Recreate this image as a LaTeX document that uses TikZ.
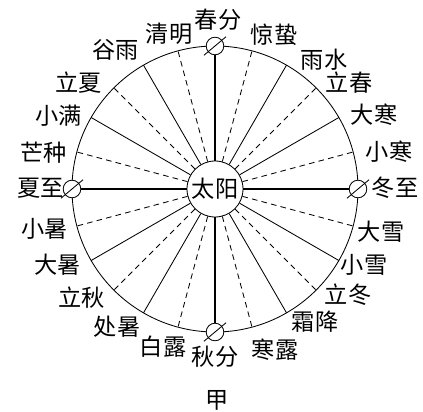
\documentclass[tikz,border=0pt]{standalone}
\usepackage{fontspec}
\newfontfamily\cjk{Noto Sans CJK SC}
\newcommand{\termfont}{\cjk\fontsize{16.5}{18}\selectfont}

\begin{document}
\begin{tikzpicture}[
        x=1cm,
        y=1cm,
        orbit/.style={line width=0.6pt},
        spoke/.style={line width=0.6pt},
        halfspoke/.style={line width=0.6pt, dash pattern=on 4pt off 3pt},
        axisH/.style={line width=1.3pt},
        axisV/.style={line width=0.9pt},
        sunnode/.style={circle, draw, line width=0.6pt, fill=white, minimum size=1.4cm, inner sep=0pt, font=\termfont},
        earth/.style={circle, draw, line width=0.6pt, fill=white, minimum size=0.44cm, inner sep=0pt},
        slash/.style={line width=0.6pt},
        term/.style={inner sep=0pt, font=\termfont}
    ]
        \useasboundingbox (-5.375,-5.55) rectangle (5.2,4.725);

        \draw[orbit] (0,0) circle (3.575);
        \node[sunnode] (sun) at (0,0) {太阳};

        \node[earth] (chunfen) at (90:3.575) {};
        \node[earth] (dongzhi) at (0:3.575) {};
        \node[earth] (qiufen) at (270:3.575) {};
        \node[earth] (xiazhi) at (180:3.575) {};

        \draw[axisV] (sun) -- (chunfen);
        \draw[axisV] (sun) -- (qiufen);
        \draw[axisH] (sun) -- (dongzhi);
        \draw[axisH] (sun) -- (xiazhi);

        \foreach \a in {30,60,120,150,210,240,300,330} {
            \coordinate (rim\a) at (\a:3.575);
            \draw[spoke] (sun) -- (rim\a);
        }

        \foreach \a in {15,45,...,345} {
            \coordinate (tick\a) at (\a:3.575);
            \draw[halfspoke] (sun) -- (tick\a);
        }

        \foreach \e in {chunfen,dongzhi,qiufen,xiazhi} {
            \draw[slash] ([shift={(220:0.36)}]\e.center) -- ([shift={(40:0.36)}]\e.center);
        }

        \foreach \x/\y/\name [count=\i] in {
            0.075/4.225/春分, 1.475/3.85/惊蛰, 2.725/3.225/雨水, 3.35/2.65/立春,
            3.975/1.85/大寒, 4.35/0.925/小寒, 4.5/0.025/冬至, 4.15/-1.075/大雪,
            3.725/-1.9/小雪, 3.325/-2.65/立冬, 2.5/-3.325/霜降, 1.5/-4.025/寒露,
            0/-4.2/秋分, -1.3/-3.95/白露, -2.45/-3.45/处暑, -3.325/-2.725/立秋,
            -3.925/-1.9/大暑, -4.25/-1.0/小暑, -4.35/0.025/夏至, -4.275/0.9/芒种,
            -3.9/1.825/小满, -3.4/2.65/立夏, -2.475/3.475/谷雨, -1.15/3.875/清明} {
            \node[term] (term\i) at (\x,\y) {\name};
        }

        \node[term] (caption) at (0.05,-5.275) {甲};
    \end{tikzpicture}
\end{document}
